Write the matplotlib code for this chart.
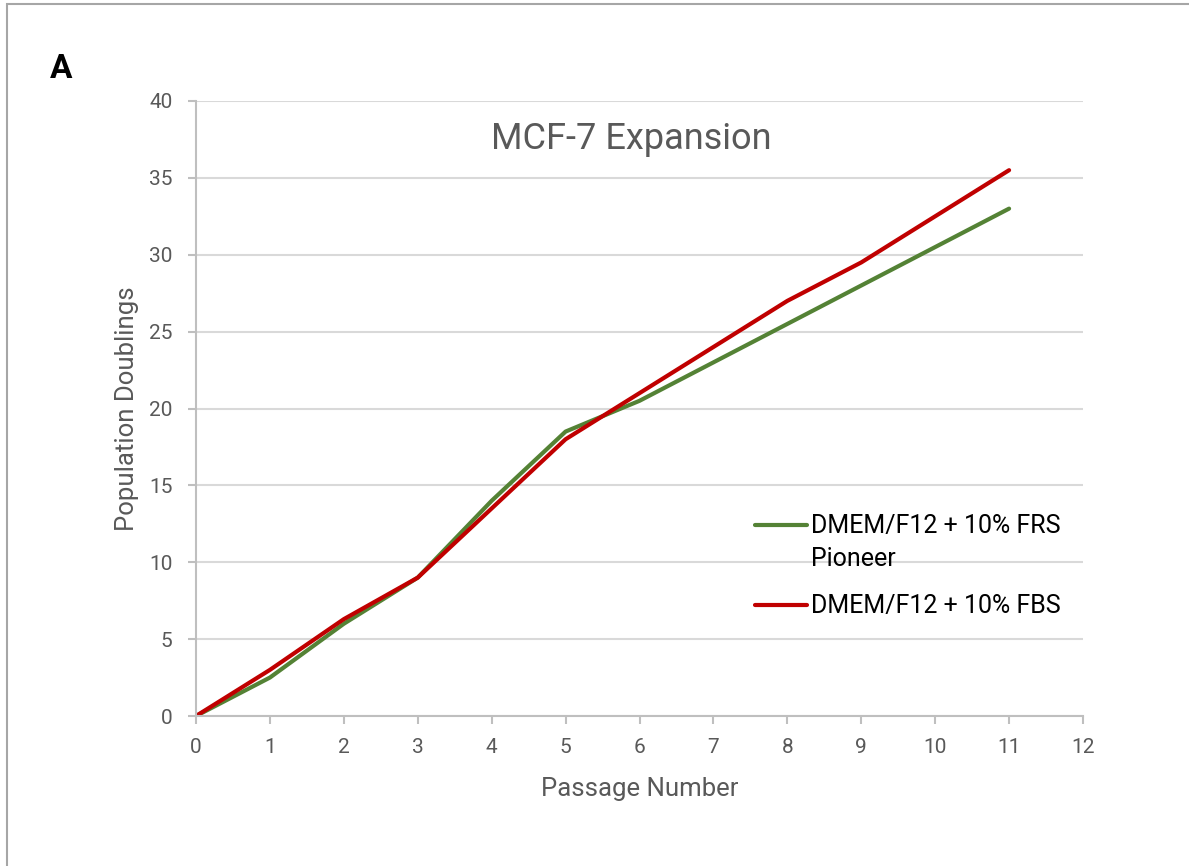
import numpy as np
import matplotlib as mpl
mpl.use("Agg")
import matplotlib.pyplot as plt
from matplotlib.patches import Rectangle

passage = [0, 1, 2, 3, 4, 5, 6, 7, 8, 9, 10, 11]
frs_pioneer = [0, 2.5, 6, 9, 14, 18.5, 20.5, 23, 25.5, 28, 30.5, 33]
fbs = [0, 3, 6.3, 9, 13.5, 18, 21, 24, 27, 29.5, 32.5, 35.5]

series_labels = ["DMEM/F12 + 10% FRS\nPioneer", "DMEM/F12 + 10% FBS"]
series_colors = ["#548235", "#C00000"]

plt.rcParams["font.family"] = ["Roboto", "DejaVu Sans"]

fig = plt.figure(figsize=(11.89, 8.66), dpi=100)
ax = fig.add_axes([196 / 1189, 1 - 716 / 866, (1083 - 196) / 1189, (716 - 101) / 866])

for values, label, color in zip([frs_pioneer, fbs], series_labels, series_colors):
    ax.plot(passage, values, color=color, lw=3, label=label, solid_capstyle="round")

ax.set_xlim(0, 12)
ax.set_ylim(0, 40)
ax.set_xticks(range(0, 13))
ax.set_yticks(range(0, 41, 5))
ax.grid(axis="y", color="#d9d9d9", lw=1.5)
ax.set_axisbelow(True)

for side in ("top", "right"):
    ax.spines[side].set_visible(False)
for side in ("left", "bottom"):
    ax.spines[side].set_color("#bfbfbf")
    ax.spines[side].set_linewidth(1.5)
ax.tick_params(axis="both", colors="#bfbfbf", width=1.5, length=6,
               labelcolor="#595959", labelsize=15)
ax.tick_params(axis="x", pad=10)
ax.tick_params(axis="y", pad=11)

ax.set_xlabel("Passage Number", fontsize=18.5, color="#595959", labelpad=14)
ax.set_ylabel("Population Doublings", fontsize=18.5, color="#595959", labelpad=7)

fig.text(631 / 1189, 1 - 139 / 866, "MCF-7 Expansion", fontsize=26,
         color="#595959", ha="center", va="center")
fig.text(50 / 1189, 1 - 69 / 866, "A", fontsize=24, fontweight="bold",
         color="black", ha="left", va="center")

leg = ax.legend(loc="upper left", bbox_to_anchor=(732 / 1189, 1 - 492 / 866),
                bbox_transform=fig.transFigure, frameon=False, fontsize=18,
                handlelength=2.1, handletextpad=0.16, labelspacing=0.95)
for text in leg.get_texts():
    text.set_color("black")
    text.set_linespacing(1.43)

# put the first handle level with the first line of its two-line label
first = leg.legend_handles[0]
first.set_ydata(np.asarray(first.get_ydata()) + 13)

fig.add_artist(Rectangle((7 / 1189, -0.1), 1.5, 1 - 4 / 866 + 0.1,
                         transform=fig.transFigure, fill=False,
                         edgecolor="#a6a6a6", lw=1.5))

fig.savefig("out.png", dpi=100, facecolor="white")
